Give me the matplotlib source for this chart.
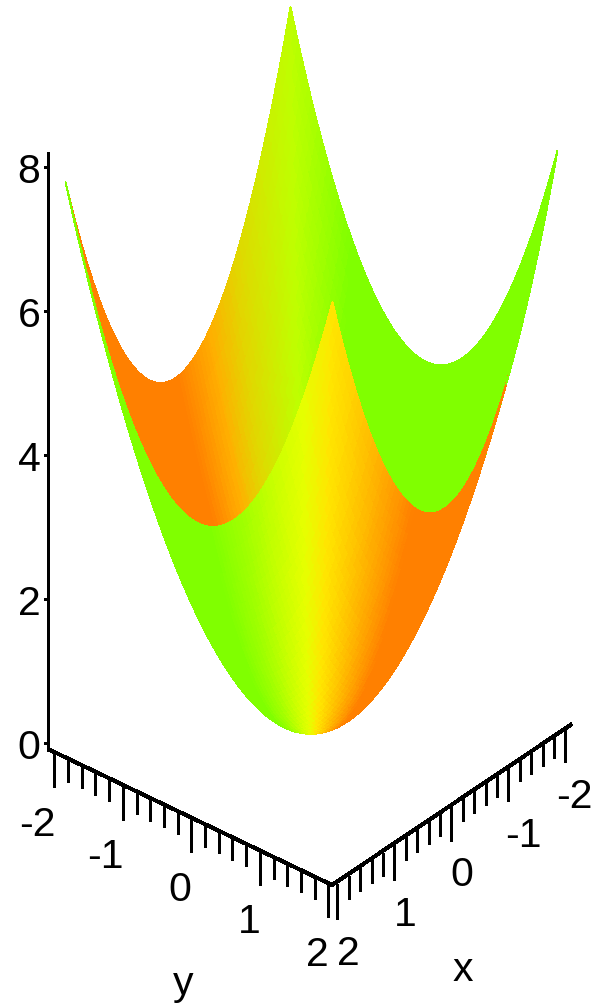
import matplotlib
matplotlib.use("Agg")
import matplotlib.pyplot as plt
from matplotlib.collections import PolyCollection
from matplotlib.colors import LinearSegmentedColormap
import numpy as np

# grid of the surface (one half, mirrored below) and the squares, z = x^2 + y^2
half_grid = [0.0, 0.05, 0.1, 0.15, 0.2, 0.25, 0.3, 0.35, 0.4, 0.45, 0.5, 0.55, 0.6, 0.65,
             0.7, 0.75, 0.8, 0.85, 0.9, 0.95, 1.0, 1.05, 1.1, 1.15, 1.2, 1.25, 1.3, 1.35,
             1.4, 1.45, 1.5, 1.55, 1.6, 1.65, 1.7, 1.75, 1.8, 1.85, 1.9, 1.95, 2.0]
half_squares = [0.0, 0.0025, 0.01, 0.0225, 0.04, 0.0625, 0.09, 0.1225, 0.16, 0.2025, 0.25,
                0.3025, 0.36, 0.4225, 0.49, 0.5625, 0.64, 0.7225, 0.81, 0.9025, 1.0,
                1.1025, 1.21, 1.3225, 1.44, 1.5625, 1.69, 1.8225, 1.96, 2.1025, 2.25,
                2.4025, 2.56, 2.7225, 2.89, 3.0625, 3.24, 3.4225, 3.61, 3.8025, 4.0]

tick_values = [-2.0, -1.8, -1.6, -1.4, -1.2, -1.0, -0.8, -0.6, -0.4, -0.2, 0.0,
               0.2, 0.4, 0.6, 0.8, 1.0, 1.2, 1.4, 1.6, 1.8, 2.0]
major_ticks = [-2, -1, 0, 1, 2]
z_ticks = [0, 2, 4, 6, 8]

# colour against the angle of (x, y) in degrees, -45 to 135
front_angles = [-45, 5, 18, 29, 38, 45, 52, 62, 74, 135]
front_colors = ["#80ff00", "#80ff00", "#a0ff00", "#c8ff00", "#e6ff00", "#ffe600",
                "#ffcd00", "#ffa800", "#ff8000", "#ff8000"]
back_angles = [-45, 29, 45, 62, 74, 90, 135]
back_colors = ["#80ff00", "#80ff00", "#beff00", "#e1d700", "#ffaf00", "#ff8000", "#ff8000"]


def project(x, y, z):
    sx = 311.5 - 56.25 * x + 66.75 * y
    sy = 725.25 + 40.75 * x + 33.0 * y - 70.5 * z - 1.5 * x * y
    return sx, sy


def y_axis(y):
    return 54.3 + 68.5 * (y + 2), 753 + 32.5 * (y + 2)


def x_axis(x):
    return 337.3 + 57 * (2 - x), 885 - 39.25 * (2 - x)


def make_map(name, angles, cols):
    return LinearSegmentedColormap.from_list(name, [((a + 45) / 180, c) for a, c in zip(angles, cols)])


fig = plt.figure(figsize=(5.93, 10.04), dpi=100)
ax = fig.add_axes([0, 0, 1, 1])
ax.set_xlim(0, 593)
ax.set_ylim(1004, 0)
ax.axis("off")

gx = np.concatenate([-np.array(half_grid[:0:-1]), half_grid])
gs = np.concatenate([half_squares[:0:-1], half_squares])
front_map = make_map("front", front_angles, front_colors)
back_map = make_map("back", back_angles, back_colors)

view = np.array([0.618, 0.507, 0.6])
polys = []
depths = []
colors = []
for i in range(len(gx) - 1):
    for j in range(len(gx) - 1):
        corners = [(i, j), (i + 1, j), (i + 1, j + 1), (i, j + 1)]
        polys.append([project(gx[a], gx[b], gs[a] + gs[b]) for a, b in corners])
        mx = (gx[i] + gx[i + 1]) / 2
        my = (gx[j] + gx[j + 1]) / 2
        mz = (gs[i] + gs[i + 1] + gs[j] + gs[j + 1]) / 2
        depths.append(view[0] * mx + view[1] * my + view[2] * mz)
        # colour follows the angle around the bowl, the two faces differ a bit
        angle = np.degrees(np.arctan2(my, mx))
        if angle > 120:
            angle = angle - 180
        elif angle < -42:
            angle = angle + 180
        angle = angle + 45
        if angle >= 180:
            angle = angle - 180
        inside = -2 * mx * view[0] - 2 * my * view[1] + view[2] > 0
        colors.append(back_map(angle / 180) if inside else front_map(angle / 180))

order = np.argsort(depths)
surface = PolyCollection([polys[k] for k in order], facecolors=[colors[k] for k in order],
                         edgecolors="face", linewidths=0.6, antialiaseds=False)
ax.add_collection(surface)

# axes, drawn as Maple does
lw = 2.16
line = dict(color="black", lw=lw, solid_capstyle="butt", antialiased=False)
ax.plot([48, 48], [153, 752], **line)
ax.plot([48, 332], [750, 886], **line)
ax.plot([332, 572], [886, 725], **line)

for v in tick_values:
    length = 35 if abs(v - round(v)) < 1e-6 else 23
    sx, sy = y_axis(v)
    ax.plot([sx, sx], [sy, sy + length], **line)
    sx, sy = x_axis(v)
    ax.plot([sx, sx], [sy, sy + length], **line)

font = dict(family="Liberation Sans", fontsize=29.5, ha="center", va="center", color="black")
for v in z_ticks:
    sy = 744 - 72 * v
    ax.plot([44, 48], [sy, sy], **line)
    ax.text(29, sy + 4, str(v), **font)

for v in major_ticks:
    sx, sy = y_axis(v)
    ax.text(sx - (17 if v < 0 else 11), sy + 72, str(v), **font)
    sx, sy = x_axis(v)
    ax.text(min(sx + (15 if v < 0 else 11), 574), sy + 69, str(v), **font)

ax.text(183, 984, "y", **font)
ax.text(463, 970, "x", **font)

fig.savefig("out.png", dpi=100)
